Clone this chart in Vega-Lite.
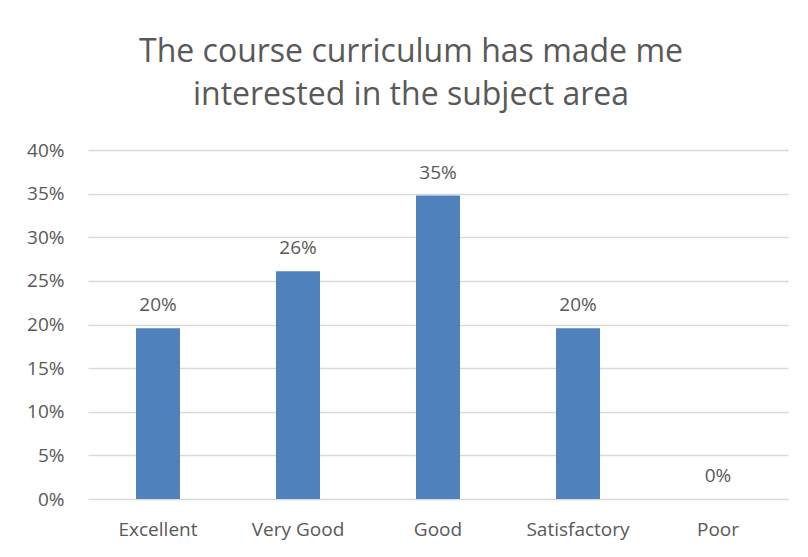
{
  "$schema": "https://vega.github.io/schema/vega-lite/v6.json",
  "width": 700,
  "height": 349,
  "autosize": {"type": "none"},
  "padding": {"left": 88, "top": 150, "right": 20, "bottom": 58},
  "background": "white",
  "title": {
    "text": ["The course curriculum has made me", "interested in the subject area"],
    "font": "Open Sans",
    "fontSize": 32,
    "fontWeight": "normal",
    "color": "#595959",
    "lineHeight": 43,
    "anchor": "middle",
    "dx": -27,
    "offset": 29
  },
  "data": {
    "values": [
      {"rating": "Excellent", "share": 0.1957},
      {"rating": "Very Good", "share": 0.2609},
      {"rating": "Good", "share": 0.3478},
      {"rating": "Satisfactory", "share": 0.1957},
      {"rating": "Poor", "share": 0}
    ]
  },
  "encoding": {
    "x": {
      "field": "rating",
      "type": "nominal",
      "sort": null,
      "scale": {"paddingInner": 0.686, "paddingOuter": 0.343},
      "axis": {
        "title": null,
        "labelAngle": 0,
        "domain": false,
        "ticks": false,
        "labelFont": "Open Sans",
        "labelFontSize": 19,
        "labelColor": "#595959",
        "labelPadding": 21
      }
    },
    "y": {
      "field": "share",
      "type": "quantitative",
      "scale": {"domain": [0, 0.4], "nice": false},
      "axis": {
        "title": null,
        "format": ".0%",
        "values": [0, 0.05, 0.1, 0.15, 0.2, 0.25, 0.3, 0.35, 0.4],
        "domain": false,
        "ticks": false,
        "grid": true,
        "gridColor": "#D9D9D9",
        "gridWidth": 1.5,
        "labelFont": "Open Sans",
        "labelFontSize": 19,
        "labelColor": "#595959",
        "labelPadding": 24
      }
    }
  },
  "layer": [
    {"mark": {"type": "bar", "color": "#4F81BD"}},
    {
      "mark": {
        "type": "text",
        "baseline": "bottom",
        "dy": -13,
        "font": "Open Sans",
        "fontSize": 19,
        "color": "#595959"
      },
      "encoding": {"text": {"field": "share", "type": "quantitative", "format": ".0%"}}
    }
  ],
  "config": {"view": {"stroke": null}}
}
